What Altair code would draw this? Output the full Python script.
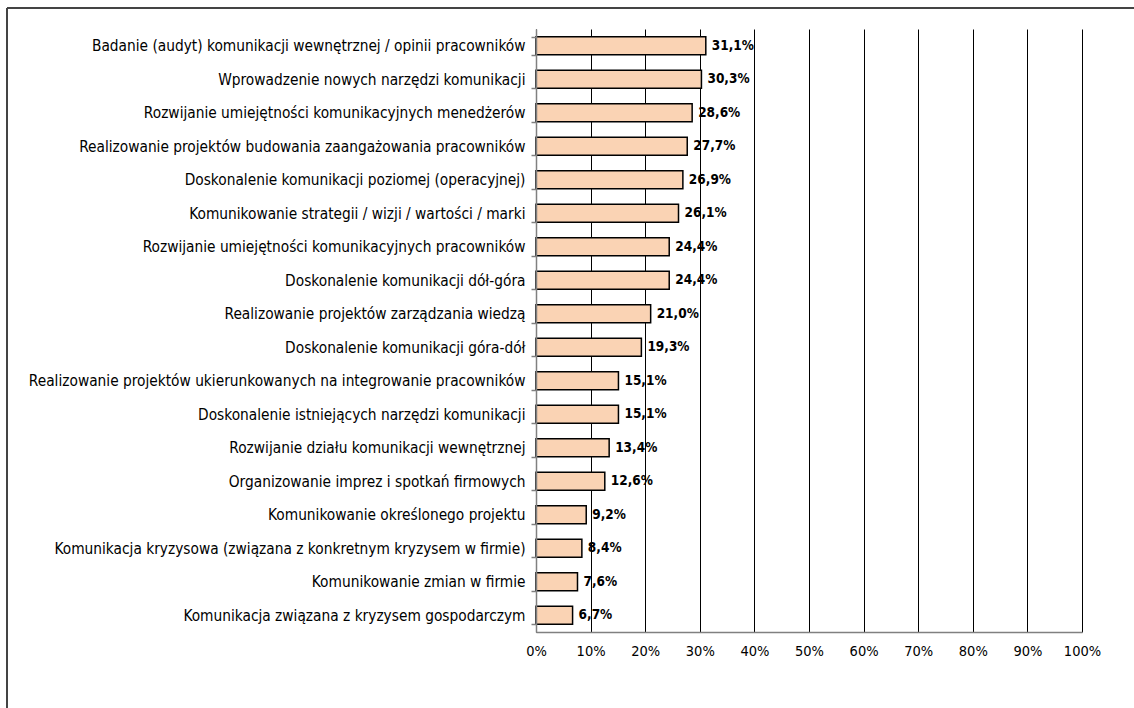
import altair as alt
import pandas as pd

categories = [
    "Badanie (audyt) komunikacji wewnętrznej / opinii pracowników",
    "Wprowadzenie nowych narzędzi komunikacji",
    "Rozwijanie umiejętności komunikacyjnych menedżerów",
    "Realizowanie projektów budowania zaangażowania pracowników",
    "Doskonalenie komunikacji poziomej (operacyjnej)",
    "Komunikowanie strategii / wizji / wartości / marki",
    "Rozwijanie umiejętności komunikacyjnych pracowników",
    "Doskonalenie komunikacji dół-góra",
    "Realizowanie projektów zarządzania wiedzą",
    "Doskonalenie komunikacji góra-dół",
    "Realizowanie projektów ukierunkowanych na integrowanie pracowników",
    "Doskonalenie istniejących narzędzi komunikacji",
    "Rozwijanie działu komunikacji wewnętrznej",
    "Organizowanie imprez i spotkań firmowych",
    "Komunikowanie określonego projektu",
    "Komunikacja kryzysowa (związana z konkretnym kryzysem w firmie)",
    "Komunikowanie zmian w firmie",
    "Komunikacja związana z kryzysem gospodarczym",
]
values = [31.1, 30.3, 28.6, 27.7, 26.9, 26.1, 24.4, 24.4, 21.0, 19.3,
          15.1, 15.1, 13.4, 12.6, 9.2, 8.4, 7.6, 6.7]

df = pd.DataFrame({"kategoria": categories, "wartosc": [v / 100 for v in values]})
df["etykieta"] = [f"{v:.1f}".replace(".", ",") + "%" for v in values]

FONT = "DejaVu Sans Condensed"
W, H = 546, 603

x_enc = alt.X(
    "wartosc:Q",
    scale=alt.Scale(domain=[0, 1], nice=False),
    axis=alt.Axis(
        format=".0%", values=[i / 10 for i in range(11)], title=None,
        grid=True, gridColor="#000000", gridWidth=1,
        domainColor="#808080", domainWidth=1.5,
        tickSize=0, labelPadding=12, labelFontSize=14.5, labelColor="#000000",
        labelFont=FONT, labelFlush=False, labelOverlap=False, zindex=0,
    ),
)
y_enc = alt.Y(
    "kategoria:N", sort=categories,
    scale=alt.Scale(paddingInner=0.46, paddingOuter=0.23),
    axis=alt.Axis(
        title=None, grid=False, domainColor="#808080", domainWidth=1.5,
        tickColor="#808080", tickSize=5, tickBand="extent", tickWidth=1.5,
        labelPadding=6, labelFontSize=15.3, labelColor="#000000", labelFont=FONT,
        labelLimit=600, zindex=1,
    ),
)

bars = alt.Chart(df).mark_bar(
    color="#FAD3B4", stroke="#000000", strokeWidth=1.5
).encode(x=x_enc, y=y_enc)

labels = alt.Chart(df).mark_text(
    align="left", baseline="middle", dx=6, font=FONT, fontSize=13.5,
    fontWeight="bold", color="#000000"
).encode(x="wartosc:Q", y=alt.Y("kategoria:N", sort=categories), text="etykieta:N")

# outer frame around the figure
frame_top = alt.Chart(df).mark_rule(color="#444444", strokeWidth=2).encode(
    x=alt.value(-529), x2=alt.value(620), y=alt.value(-21)
)
frame_left = alt.Chart(df).mark_rule(color="#444444", strokeWidth=2).encode(
    x=alt.value(-529), y=alt.value(-21), y2=alt.value(700)
)

chart = alt.layer(bars, labels, frame_top, frame_left).properties(
    width=W, height=H,
    autosize=alt.AutoSizeParams(type="none"),
    padding={"left": 536, "top": 29, "right": 52, "bottom": 76},
    background="#ffffff",
).configure_view(stroke=None)

chart.save("out.html", embed_options={"renderer": "svg", "actions": False})
